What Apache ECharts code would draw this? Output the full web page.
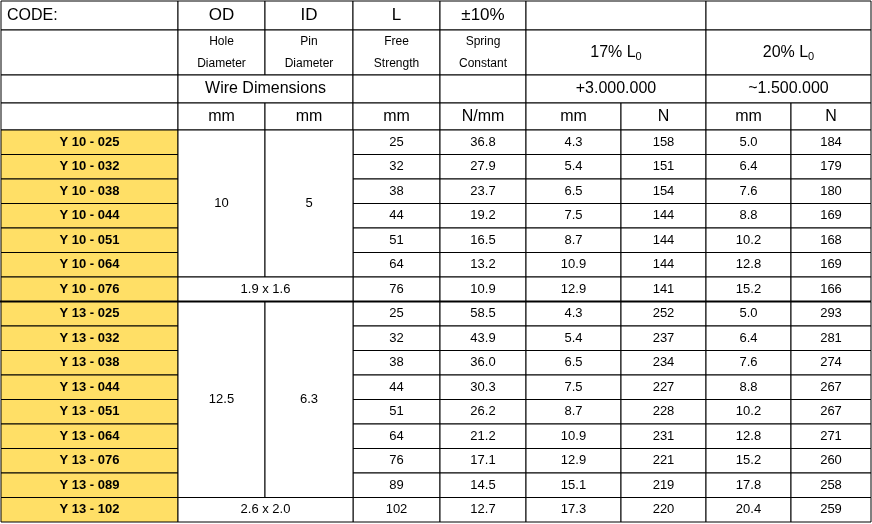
<!DOCTYPE html>
<html>
<head>
<meta charset="UTF-8">
<script src="https://cdn.jsdelivr.net/npm/echarts@6/dist/echarts.min.js"></script>
<style>html,body{margin:0;background:#fff}#main{width:872px;height:524px}</style>
</head>
<body>
<div id="main"></div>
<script>
var codes = ['Y 10 - 025','Y 10 - 032','Y 10 - 038','Y 10 - 044','Y 10 - 051','Y 10 - 064','Y 10 - 076',
  'Y 13 - 025','Y 13 - 032','Y 13 - 038','Y 13 - 044','Y 13 - 051','Y 13 - 064','Y 13 - 076','Y 13 - 089','Y 13 - 102'];
var freeLength = [25,32,38,44,51,64,76,25,32,38,44,51,64,76,89,102];
var springConst = ['36.8','27.9','23.7','19.2','16.5','13.2','10.9','58.5','43.9','36.0','30.3','26.2','21.2','17.1','14.5','12.7'];
var mm17 = ['4.3','5.4','6.5','7.5','8.7','10.9','12.9','4.3','5.4','6.5','7.5','8.7','10.9','12.9','15.1','17.3'];
var n17 = [158,151,154,144,144,144,141,252,237,234,227,228,231,221,219,220];
var mm20 = ['5.0','6.4','7.6','8.8','10.2','12.8','15.2','5.0','6.4','7.6','8.8','10.2','12.8','15.2','17.8','20.4'];
var n20 = [184,179,180,169,168,169,166,293,281,274,267,267,271,260,258,259];
// OD / ID groups: [firstRow, rowCount, od, id], wire rows: [row, text]
var groups = [[0,6,'10','5'],[7,8,'12.5','6.3']];
var wireRows = [[6,'1.9 x 1.6'],[15,'2.6 x 2.0']];

var xs = [1,178,265,353,440,526,621,706,791,871];
var hy = [1,30,75,103,130];
var rowH = 24.5;
var FONT = 'Liberation Sans, Arial, sans-serif';
var els = [];

function cell(c0, c1, y0, y1, text, opt) {
  opt = opt || {};
  els.push({
    type: 'rect',
    shape: {x: xs[c0], y: y0, width: xs[c1] - xs[c0], height: y1 - y0},
    style: {fill: opt.fill || '#fff', stroke: '#000', lineWidth: 1}
  });
  if (text !== undefined && text !== '') {
    els.push({
      type: 'text',
      x: opt.left ? xs[c0] + 6 : (xs[c0] + xs[c1]) / 2,
      y: (y0 + y1) / 2,
      style: {
        text: String(text), fill: '#000', font: (opt.bold ? 'bold ' : '') + (opt.size || 13) + 'px ' + FONT,
        align: opt.left ? 'left' : 'center', verticalAlign: 'middle',
        lineHeight: opt.lh, rich: opt.rich
      }
    });
  }
}
var rich = {sub: {fontSize: 11, verticalAlign: 'bottom', padding: [8, 0, 0, 0], fontFamily: FONT}};

// header
cell(0,1,hy[0],hy[1],'CODE:',{left:true,size:16});
cell(1,2,hy[0],hy[1],'OD',{size:17});
cell(2,3,hy[0],hy[1],'ID',{size:17});
cell(3,4,hy[0],hy[1],'L',{size:17});
cell(4,5,hy[0],hy[1],'±10%',{size:17});
cell(5,7,hy[0],hy[1],'');
cell(7,9,hy[0],hy[1],'');
cell(0,1,hy[1],hy[2],'');
cell(1,2,hy[1],hy[2],'Hole\nDiameter',{size:12,lh:22});
cell(2,3,hy[1],hy[2],'Pin\nDiameter',{size:12,lh:22});
cell(3,4,hy[1],hy[2],'Free\nStrength',{size:12,lh:22});
cell(4,5,hy[1],hy[2],'Spring\nConstant',{size:12,lh:22});
cell(5,7,hy[1],hy[2],'17% L{sub|0}',{size:16,rich:rich});
cell(7,9,hy[1],hy[2],'20% L{sub|0}',{size:16,rich:rich});
cell(0,1,hy[2],hy[3],'');
cell(1,3,hy[2],hy[3],'Wire Dimensions',{size:16});
cell(3,4,hy[2],hy[3],'');
cell(4,5,hy[2],hy[3],'');
cell(5,7,hy[2],hy[3],'+3.000.000',{size:16});
cell(7,9,hy[2],hy[3],'~1.500.000',{size:16});
var units = ['','mm','mm','mm','N/mm','mm','N','mm','N'];
units.forEach(function (u, i) { cell(i, i + 1, hy[3], hy[4], u, {size:16}); });

// body
codes.forEach(function (c, r) {
  var y0 = hy[4] + r * rowH, y1 = y0 + rowH;
  cell(0,1,y0,y1,c,{bold:true,fill:'#FFDF66'});
  cell(3,4,y0,y1,freeLength[r]);
  cell(4,5,y0,y1,springConst[r]);
  cell(5,6,y0,y1,mm17[r]);
  cell(6,7,y0,y1,n17[r]);
  cell(7,8,y0,y1,mm20[r]);
  cell(8,9,y0,y1,n20[r]);
});
groups.forEach(function (g) {
  var y0 = hy[4] + g[0] * rowH, y1 = y0 + g[1] * rowH;
  cell(1,2,y0,y1,g[2]);
  cell(2,3,y0,y1,g[3]);
});
wireRows.forEach(function (w) {
  var y0 = hy[4] + w[0] * rowH;
  cell(1,3,y0,y0 + rowH,w[1]);
});
// thick separator between series
els.push({type:'line', shape:{x1:0, y1:hy[4] + 7 * rowH, x2:871, y2:hy[4] + 7 * rowH}, style:{stroke:'#000', lineWidth:2}});

var chart = echarts.init(document.getElementById('main'));
chart.setOption({animation:false, graphic:{elements:els}});
</script>
</body>
</html>
